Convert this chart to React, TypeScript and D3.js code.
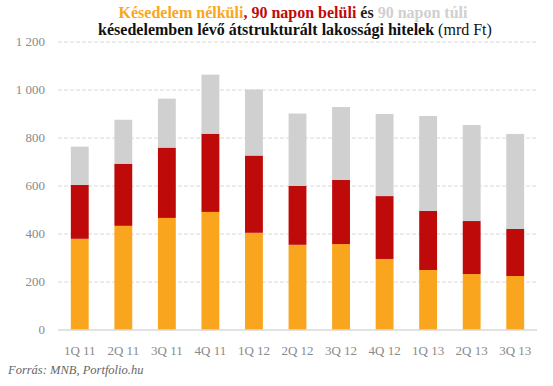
import React, { useRef, useEffect } from 'react';
import * as d3 from 'd3';

const quarters = ['1Q 11', '2Q 11', '3Q 11', '4Q 11', '1Q 12', '2Q 12', '3Q 12', '4Q 12', '1Q 13', '2Q 13', '3Q 13'];
// mrd Ft
const nemKeses = [380, 434, 467, 492, 405, 355, 358, 296, 250, 233, 225];
const napon90Belul = [225, 259, 293, 326, 322, 246, 267, 262, 246, 221, 196];
const napon90Tul = [159, 183, 204, 246, 275, 301, 304, 342, 396, 400, 396];
const yTicks = [0, 200, 400, 600, 800, 1000, 1200];
const yTickLabels = ['0', '200', '400', '600', '800', '1 000', '1 200'];

const keys = ['nemKeses', 'belul', 'tul'];
const colors = ['#F9A61E', '#BF0A0A', '#D0D0D0'];

const App = () => {
  const ref = useRef<SVGSVGElement>(null);

  useEffect(() => {
    const svg = d3.select(ref.current);
    svg.selectAll('*').remove();

    const width = 553;
    const height = 386;
    const font = '"Liberation Serif", serif';

    const rows = quarters.map((q, i) => ({ q, nemKeses: nemKeses[i], belul: napon90Belul[i], tul: napon90Tul[i] }));

    const x = d3.scaleBand().domain(quarters).range([58, 537]).paddingInner(0.59).paddingOuter(0.295);
    const y = d3.scaleLinear().domain([0, 1200]).range([330, 42]);

    // grid
    svg.append('g').selectAll('line').data(yTicks.filter(d => d > 0)).join('line')
      .attr('x1', 58).attr('x2', 537)
      .attr('y1', d => y(d)).attr('y2', d => y(d))
      .attr('stroke', '#D9D9D9').attr('stroke-width', 1).attr('stroke-dasharray', '4,2');

    const series = d3.stack().keys(keys)(rows as any);
    svg.append('g').selectAll('g').data(series).join('g')
      .attr('fill', (d, i) => colors[i])
      .selectAll('rect').data(d => d).join('rect')
      .attr('x', (d: any) => x(d.data.q)!)
      .attr('width', x.bandwidth())
      .attr('y', d => y(d[1]))
      .attr('height', d => y(d[0]) - y(d[1]));

    // baseline
    svg.append('line').attr('x1', 58).attr('x2', 537).attr('y1', y(0)).attr('y2', y(0))
      .attr('stroke', '#D9D9D9').attr('stroke-width', 1.5);

    // y labels
    svg.append('g').selectAll('text').data(yTicks).join('text')
      .attr('x', 45).attr('y', d => y(d) + 4)
      .attr('text-anchor', 'end')
      .attr('font-family', font).attr('font-size', 13).attr('fill', '#8A8A8A')
      .text((d, i) => yTickLabels[i]);

    // x labels
    svg.append('g').selectAll('text').data(quarters).join('text')
      .attr('x', d => x(d)! + x.bandwidth() / 2).attr('y', 355)
      .attr('text-anchor', 'middle')
      .attr('font-family', font).attr('font-size', 13).attr('fill', '#8A8A8A')
      .text(d => d);

    // title
    const t1 = svg.append('text').attr('x', 293).attr('y', 18).attr('text-anchor', 'middle')
      .attr('font-family', font).attr('font-size', 16).attr('font-weight', 'bold');
    t1.append('tspan').attr('fill', '#F9A61E').text('Késedelem nélküli');
    t1.append('tspan').attr('fill', '#BF0A0A').text(', 90 napon belüli');
    t1.append('tspan').attr('fill', '#222').text(' és ');
    t1.append('tspan').attr('fill', '#D0D0D0').text('90 napon túli');

    const t2 = svg.append('text').attr('x', 295).attr('y', 35).attr('text-anchor', 'middle')
      .attr('font-family', font).attr('font-size', 16).attr('fill', '#111');
    t2.append('tspan').attr('font-weight', 'bold').text('késedelemben  lévő átstrukturált lakossági hitelek');
    t2.append('tspan').text(' (mrd Ft)');

    svg.append('text').attr('x', 8).attr('y', 374)
      .attr('font-family', font).attr('font-size', 12.5).attr('font-style', 'italic').attr('fill', '#666')
      .text('Forrás: MNB, Portfolio.hu');

    svg.attr('viewBox', `0 0 ${width} ${height}`);
  }, []);

  return <svg ref={ref} width={553} height={386} style={{ position: 'absolute', left: 0, top: 0, background: '#fff' }} />;
};

export default App;
